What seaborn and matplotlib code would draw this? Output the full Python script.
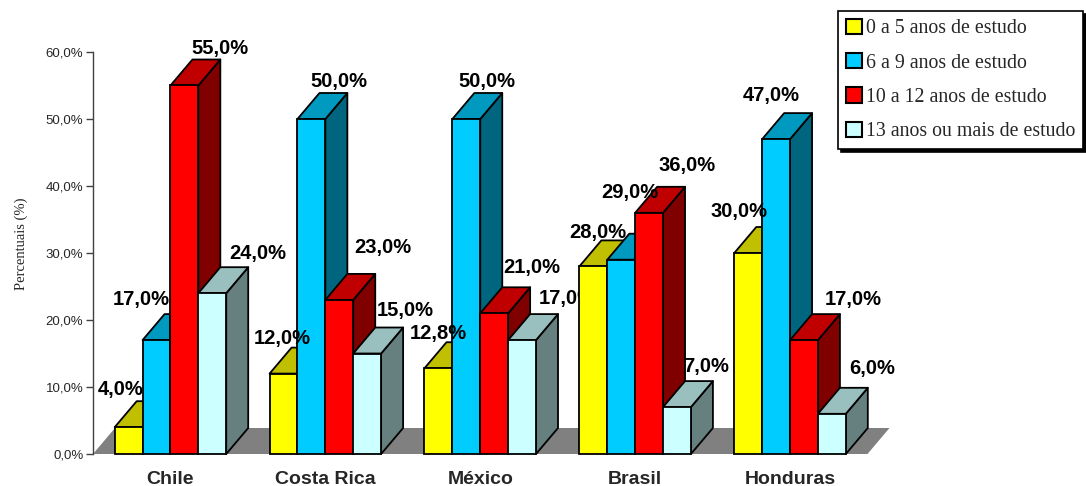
import numpy as np
import pandas as pd
import seaborn as sns
import matplotlib.pyplot as plt
from matplotlib.patches import Polygon, Patch

# Escolaridade por país (%)
paises = ["Chile", "Costa Rica", "México", "Brasil", "Honduras"]
faixas = ["0 a 5 anos de estudo", "6 a 9 anos de estudo",
          "10 a 12 anos de estudo", "13 anos ou mais de estudo"]
anos_0_5 = [4.0, 12.0, 12.8, 28.0, 30.0]
anos_6_9 = [17.0, 50.0, 50.0, 29.0, 47.0]
anos_10_12 = [55.0, 23.0, 21.0, 36.0, 17.0]
anos_13_mais = [24.0, 15.0, 17.0, 7.0, 6.0]
yticks = [0, 10, 20, 30, 40, 50, 60]

# cores: frente, topo, lateral
cor_frente = ["#FFFF00", "#00CCFF", "#FF0000", "#CCFFFF"]
cor_topo = ["#C0C000", "#0099BF", "#C00000", "#99BFBF"]
cor_lado = ["#808000", "#006680", "#800000", "#668080"]

# deslocamento dos rótulos (pixels) em relação ao topo frontal de cada barra
desloc_rotulos = [
    [(-8, 38), (-15, 41), (36, 37), (45, 40)],
    [(-1, 35), (27, 38), (44, 52), (38, 43)],
    [(0, 35), (21, 38), (38, 46), (45, 42)],
    [(4, 34), (9, 67), (38, 47), (29, 41)],
    [(-9, 42), (-5, 44), (49, 41), (40, 45)],
]

series = [anos_0_5, anos_6_9, anos_10_12, anos_13_mais]
df = pd.DataFrame({
    "pais": np.repeat([paises], len(faixas), axis=0).ravel(),
    "faixa": np.repeat(faixas, len(paises)),
    "pct": np.concatenate(series),
})

sns.set_style("white")
plt.rcParams["font.family"] = ["Liberation Sans", "DejaVu Sans"]

W, H = 1086, 486
fig = plt.figure(figsize=(W / 100, H / 100), dpi=100)
ax_w_px, ax_h_px = 774.5, 402.0
ax = fig.add_axes([93 / W, 32 / H, ax_w_px / W, ax_h_px / H])

sns.barplot(data=df, x="pais", y="pct", hue="faixa", order=paises,
            hue_order=faixas, palette=cor_frente, saturation=1, width=0.72,
            edgecolor="black", linewidth=1.3, legend=False, ax=ax)

ax.set_xlim(-0.5, 4.5)
ax.set_ylim(0, 60)

# profundidade 3D em unidades de dados
ddx = 22 / (ax_w_px / 5.0)
ddy = 26 / (ax_h_px / 60.0)

# piso
ax.add_patch(Polygon([(-0.5, 0), (4.5, 0), (4.5 + ddx, ddy), (-0.5 + ddx, ddy)],
                     closed=True, facecolor="#808080", edgecolor="none",
                     zorder=1, clip_on=False))

for i, cont in enumerate(ax.containers):
    for g, p in enumerate(cont.patches):
        x0, w, h = p.get_x(), p.get_width(), p.get_height()
        base = 3 + g + i * 0.2
        lado = Polygon([(x0 + w, 0), (x0 + w + ddx, ddy), (x0 + w + ddx, h + ddy),
                        (x0 + w, h)], closed=True, facecolor=cor_lado[i],
                       edgecolor="black", linewidth=1.3, zorder=base,
                       clip_on=False, joinstyle="round")
        topo = Polygon([(x0, h), (x0 + w, h), (x0 + w + ddx, h + ddy),
                        (x0 + ddx, h + ddy)], closed=True, facecolor=cor_topo[i],
                       edgecolor="black", linewidth=1.3, zorder=base,
                       clip_on=False, joinstyle="round")
        ax.add_patch(lado)
        ax.add_patch(topo)
        p.set_zorder(base + 0.1)
        p.set_clip_on(False)
        txt = f"{h:.1f}%".replace(".", ",")
        ox, oy = desloc_rotulos[g][i]
        ax.annotate(txt, (x0 + w / 2, h), xytext=(ox, oy),
                    textcoords="offset pixels", ha="center", va="center",
                    fontsize=14.5, fontweight="bold", color="black",
                    zorder=3 + g + 0.9, annotation_clip=False)

# eixos
for s in ["top", "right", "bottom"]:
    ax.spines[s].set_visible(False)
ax.spines["left"].set_color("#404040")
ax.spines["left"].set_linewidth(1.0)
ax.set_yticks(yticks)
ax.set_yticklabels([f"{t:.1f}%".replace(".", ",") for t in yticks], fontsize=9.5)
ax.tick_params(axis="y", direction="out", length=5, width=1.0, color="#404040",
               pad=2, left=True)
ax.tick_params(axis="x", length=0, pad=12)
for lab in ax.get_xticklabels():
    lab.set_fontweight("bold")
    lab.set_fontsize(14)
ax.set_xlabel("")
ax.set_ylabel("Percentuais (%)", family="Liberation Serif", fontsize=10.5)
ax.yaxis.set_label_coords(-0.084, 0.522)
ax.grid(False)
ax.set_facecolor("none")

handles = [Patch(facecolor=c, edgecolor="black", linewidth=1.5) for c in cor_frente]
leg = fig.legend(handles, faixas, loc="upper left",
                 bbox_to_anchor=(838 / W, 1 - 11 / H), bbox_transform=fig.transFigure,
                 prop={"family": "Liberation Serif", "size": 14.3},
                 frameon=True, fancybox=False, edgecolor="black",
                 shadow={"color": "black", "alpha": 1, "ox": 2.5, "oy": -2.5},
                 handlelength=0.8, handleheight=0.8, handletextpad=0.2,
                 borderpad=0.4, labelspacing=0.74, borderaxespad=0)
leg.get_frame().set_linewidth(1.2)
leg.get_frame().set_alpha(1)

fig.savefig("out.png", dpi=100)
